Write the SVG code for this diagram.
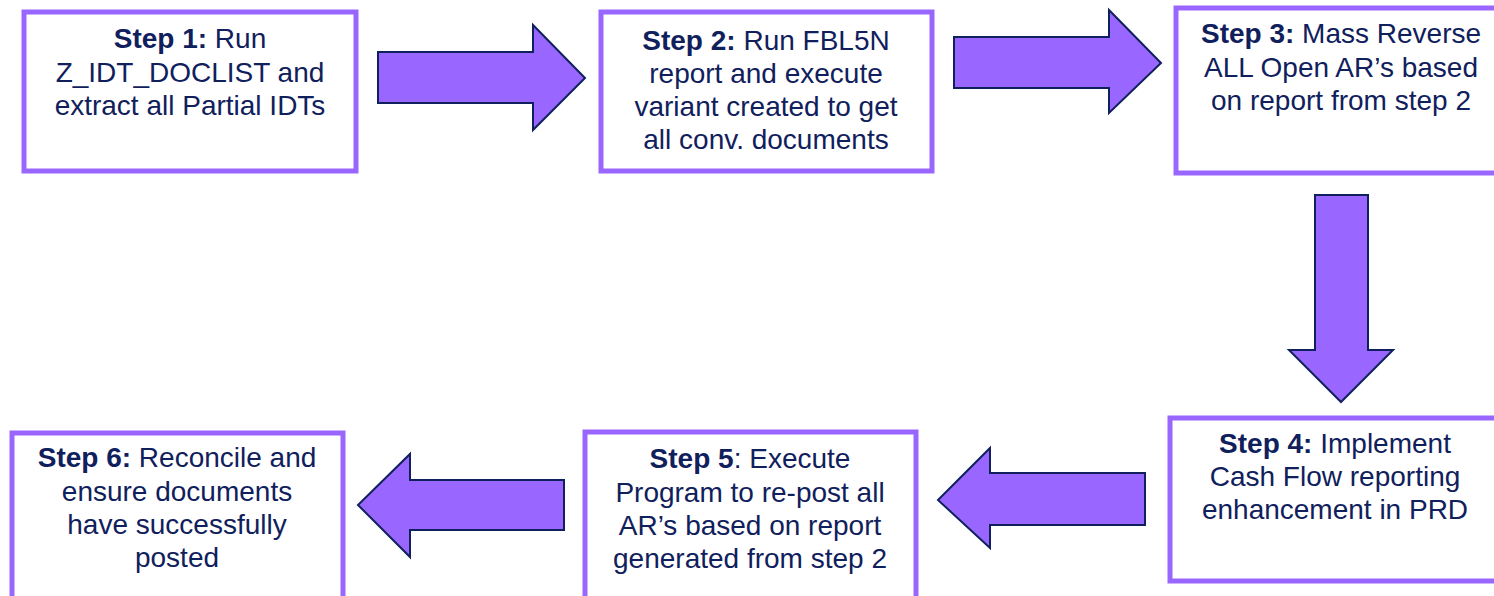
<svg xmlns="http://www.w3.org/2000/svg" width="1494" height="596" viewBox="0 0 1494 596">
  <style>
    .box { fill: #ffffff; stroke: #9966ff; stroke-width: 5; }
    .arrow { fill: #9966ff; stroke: #10205c; stroke-width: 2; stroke-linejoin: miter; }
    text { font-family: "Liberation Sans", Arial, sans-serif; font-size: 28px; fill: #10205c; text-anchor: middle; }
    .b { font-weight: bold; }
  </style>
  <rect width="1494" height="596" fill="#ffffff"/>

  <g id="connectors">
    <!-- Step 1 to Step 2 -->
    <polygon class="arrow" points="378,52 533,52 533,25 585,78 533,130 533,103 378,103"/>
    <!-- Step 2 to Step 3 -->
    <polygon class="arrow" points="954,37 1109,37 1109,10 1161,63 1109,113 1109,88 954,88"/>
    <!-- Step 3 to Step 4 -->
    <polygon class="arrow" points="1315,195 1368,195 1368,350 1393,350 1341,402 1289,350 1315,350"/>
    <!-- Step 4 to Step 5 -->
    <polygon class="arrow" points="1145,473 990,473 990,448 938,500 990,548 990,525 1145,525"/>
    <!-- Step 5 to Step 6 -->
    <polygon class="arrow" points="564,480 410,480 410,454 358,505 410,557 410,530 564,530"/>
  </g>

  <g id="step1">
    <rect class="box" x="24" y="12" width="332" height="159"/>
    <text x="190" y="48"><tspan class="b">Step 1:</tspan> Run</text>
    <text x="190" y="82">Z_IDT_DOCLIST and</text>
    <text x="190" y="115">extract all Partial IDTs</text>
  </g>

  <g id="step2">
    <rect class="box" x="601" y="12" width="331" height="159"/>
    <text x="766" y="50"><tspan class="b">Step 2:</tspan> Run FBL5N</text>
    <text x="766" y="83">report and execute</text>
    <text x="766" y="116">variant created to get</text>
    <text x="766" y="149">all conv. documents</text>
  </g>

  <g id="step3">
    <rect class="box" x="1176" y="8" width="333" height="165"/>
    <text x="1341" y="43"><tspan class="b">Step 3:</tspan> Mass Reverse</text>
    <text x="1341" y="77">ALL Open AR’s based</text>
    <text x="1341" y="110">on report from step 2</text>
  </g>

  <g id="step4">
    <rect class="box" x="1170" y="418" width="333" height="163"/>
    <text x="1335" y="453"><tspan class="b">Step 4:</tspan> Implement</text>
    <text x="1335" y="486">Cash Flow reporting</text>
    <text x="1335" y="519">enhancement in PRD</text>
  </g>

  <g id="step5">
    <rect class="box" x="585" y="432" width="331" height="180"/>
    <text x="750" y="468"><tspan class="b">Step 5</tspan>: Execute</text>
    <text x="750" y="502">Program to re-post all</text>
    <text x="750" y="535">AR’s based on report</text>
    <text x="750" y="568">generated from step 2</text>
  </g>

  <g id="step6">
    <rect class="box" x="12" y="433" width="331" height="180"/>
    <text x="177" y="467"><tspan class="b">Step 6:</tspan> Reconcile and</text>
    <text x="177" y="501">ensure documents</text>
    <text x="177" y="534">have successfully</text>
    <text x="177" y="567">posted</text>
  </g>
</svg>
